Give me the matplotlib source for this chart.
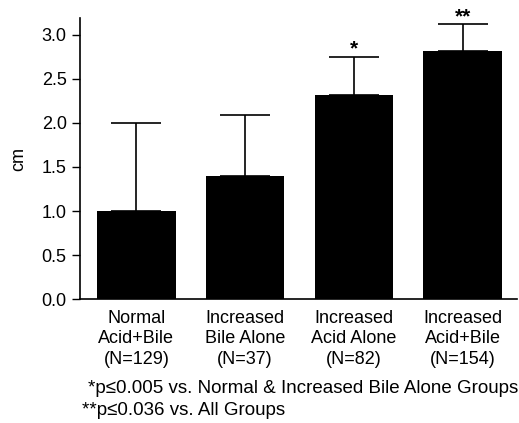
import matplotlib
matplotlib.use("Agg")
import matplotlib.pyplot as plt

groups = ["Normal\nAcid+Bile\n(N=129)", "Increased\nBile Alone\n(N=37)",
          "Increased\nAcid Alone\n(N=82)", "Increased\nAcid+Bile\n(N=154)"]
means = [1.0, 1.4, 2.32, 2.82]
errs = [1.0, 0.69, 0.43, 0.30]
marks = ["", "", "*", "**"]
yticks = [0.0, 0.5, 1.0, 1.5, 2.0, 2.5, 3.0]

plt.rcParams["font.family"] = ["Liberation Sans", "DejaVu Sans"]
plt.rcParams["font.size"] = 13

fig = plt.figure(figsize=(5.19, 4.23), dpi=100)
ax = fig.add_axes([0.154, 0.293, 0.842, 0.664])

x = list(range(len(groups)))
ax.bar(x, means, width=0.72, color="black", zorder=2)
ax.errorbar(x, means, yerr=[[0] * len(errs), errs], fmt="none", ecolor="black",
            elinewidth=1.2, capsize=18, capthick=1.2, zorder=1)
for xi, m, e, s in zip(x, means, errs, marks):
    if s:
        ax.text(xi, m + e - 0.02, s, ha="center", va="bottom", fontsize=15, fontweight="bold")

ax.set_xlim(-0.52, 3.5)
ax.set_ylim(0, 3.19)
ax.set_yticks(yticks)
ax.set_yticklabels(["%.1f" % v for v in yticks])
ax.set_xticks(x)
ax.set_xticklabels(groups, linespacing=1.25)
ax.tick_params(axis="x", length=0, pad=8)
ax.tick_params(axis="y", length=6, width=1, direction="out")
ax.set_ylabel("cm", labelpad=10)
for side in ["top", "right"]:
    ax.spines[side].set_visible(False)
for side in ["left", "bottom"]:
    ax.spines[side].set_linewidth(1.2)

fig.text(0.17, 0.07, "*p\u22640.005 vs. Normal & Increased Bile Alone Groups", fontsize=13.5)
fig.text(0.158, 0.02, "**p\u22640.036 vs. All Groups", fontsize=13.5)

fig.savefig("out.png", dpi=100)
